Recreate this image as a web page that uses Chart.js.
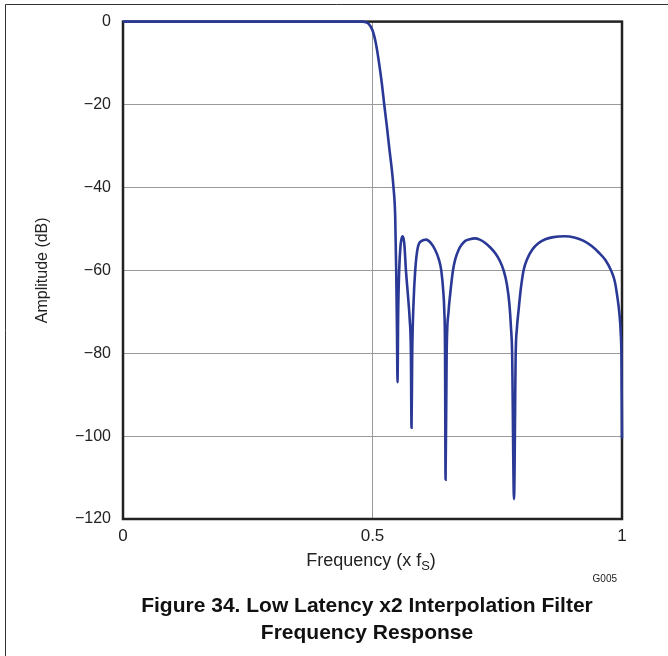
<!DOCTYPE html>
<html>
<head>
<meta charset="utf-8">
<script src="https://cdn.jsdelivr.net/npm/chart.js@4.4.1/dist/chart.umd.min.js"></script>
<style>
  html, body { margin: 0; padding: 0; background: #fff; }
  #wrap { width: 668px; height: 656px; }
</style>
</head>
<body>
<div id="wrap"><canvas id="myChart" width="668" height="656"></canvas></div>
<script>
// frequency (x fS) and amplitude (dB)
var freq = [0, 0.25, 0.46, 0.4787, 0.4854, 0.4920, 0.5000, 0.5068, 0.5134, 0.5188, 0.5235, 0.5289, 0.5341, 0.5389, 0.5421, 0.5455, 0.5475, 0.5491, 0.5501,
  0.5515, 0.5535, 0.5562, 0.5582, 0.5602, 0.5622, 0.5640, 0.5670, 0.5710, 0.5746, 0.5770, 0.5782,
  0.5796, 0.5822, 0.5856, 0.5911, 0.5987, 0.6077, 0.6167, 0.6257, 0.6328, 0.6378, 0.6418, 0.6438, 0.6454, 0.6464,
  0.6486, 0.6524, 0.6558, 0.6613, 0.6659, 0.6725, 0.6789, 0.6859, 0.6949, 0.7046, 0.7150, 0.7260, 0.7361, 0.7461,
  0.7551, 0.7627, 0.7692, 0.7742, 0.7776, 0.7798, 0.7836,
  0.7870, 0.7894, 0.7928, 0.7972, 0.8028, 0.8103, 0.8197, 0.8323, 0.8464, 0.8624, 0.8851, 0.9045, 0.9232, 0.9386,
  0.9533, 0.9667, 0.9787, 0.9858, 0.9908, 0.9948, 0.9974, 0.9990, 1.0];
var ampl = [0, 0, 0, 0, -0.1, -0.5, -2.1, -5.3, -10.2, -15, -20, -25.4, -31, -35.9, -40, -47.1, -60, -75, -87,
  -70, -60, -54, -52.4, -51.8, -52.4, -54, -60, -66, -72, -80, -98,
  -80, -68, -60, -54.3, -52.9, -52.6, -53.4, -55.1, -57.3, -60, -65, -69.6, -80, -110.5,
  -80, -70, -65.6, -60, -57.3, -55.1, -53.8, -52.9, -52.5, -52.3, -52.6, -53.4, -54.5, -55.9,
  -57.7, -60, -63.3, -68, -74, -80, -115.2,
  -80, -74, -69.6, -64.5, -60, -57.2, -55.1, -53.5, -52.5, -52.0, -51.8, -52.1, -52.9, -54.1,
  -55.7, -57.5, -60.2, -62.8, -66.5, -70.5, -75, -82, -100.5];
var xTickLabels = {0: "0", 0.5: "0.5", 1: "1"};
var yTitle = "Amplitude (dB)";
var xTitle = ["Frequency (x f", "S", ")"];
var caption = ["Figure 34. Low Latency x2 Interpolation Filter", "Frequency Response"];
var figId = "G005";

var points = freq.map((f, i) => ({x: f, y: ampl[i]}));
var FONT = '"Liberation Sans", Arial, sans-serif';

var extras = {
  id: "extras",
  beforeDraw(chart) {
    var c = chart.ctx;
    c.save();
    c.strokeStyle = "#333";
    c.lineWidth = 1;
    c.beginPath();
    c.moveTo(5.5, 656);
    c.lineTo(5.5, 4.5);
    c.lineTo(668, 4.5);
    c.stroke();
    c.restore();
  },
  beforeDatasetsDraw(chart) {
    var a = chart.chartArea, c = chart.ctx;
    c.save();
    c.strokeStyle = "#222";
    c.lineWidth = 2.5;
    c.strokeRect(a.left, a.top, a.right - a.left, a.bottom - a.top);
    c.restore();
  },
  afterDraw(chart) {
    var c = chart.ctx;
    c.save();
    c.fillStyle = "#222";
    c.textBaseline = "alphabetic";
    // x axis title with subscript S
    c.font = "18px " + FONT;
    var w0 = c.measureText(xTitle[0]).width;
    var w2 = c.measureText(xTitle[2]).width;
    c.font = "13px " + FONT;
    var w1 = c.measureText(xTitle[1]).width;
    var x = 371 - (w0 + w1 + w2) / 2;
    c.font = "18px " + FONT;
    c.fillText(xTitle[0], x, 566);
    c.font = "13px " + FONT;
    c.fillText(xTitle[1], x + w0, 570);
    c.font = "18px " + FONT;
    c.fillText(xTitle[2], x + w0 + w1, 566);
    // figure id
    c.font = "10px " + FONT;
    c.textAlign = "right";
    c.fillText(figId, 617, 582);
    // caption
    c.fillStyle = "#111";
    c.font = "bold 21px " + FONT;
    c.textAlign = "center";
    c.fillText(caption[0], 367, 612);
    c.fillText(caption[1], 367, 639);
    c.restore();
  }
};

const myChart = new Chart("myChart", {
  type: "line",
  data: {
    datasets: [{
      data: points,
      borderColor: "#2b3996",
      backgroundColor: "#2b3996",
      borderWidth: 2.6,
      pointRadius: 0,
      fill: false,
      cubicInterpolationMode: "monotone",
      clip: false
    }]
  },
  options: {
    animation: false,
    responsive: false,
    layout: {padding: {top: 19, right: 46, bottom: 107, left: 0}},
    plugins: {legend: {display: false}, tooltip: {enabled: false}},
    scales: {
      x: {
        type: "linear",
        min: 0, max: 1,
        afterFit: s => { s.height = 30; },
        border: {display: false},
        grid: {
          drawTicks: false,
          color: ctx => (ctx.tick && ctx.tick.value === 0.5) ? "#999" : "rgba(0,0,0,0)"
        },
        ticks: {
          stepSize: 0.5,
          padding: 7,
          color: "#222",
          font: {family: FONT, size: 17},
          callback: v => xTickLabels[v] !== undefined ? xTickLabels[v] : ""
        }
      },
      y: {
        min: -120, max: 0,
        afterFit: s => { s.width = 123; },
        border: {display: false},
        grid: {drawTicks: false, color: "#999"},
        title: {
          display: true,
          text: yTitle,
          color: "#222",
          font: {family: FONT, size: 16},
          padding: {top: 33, bottom: 0}
        },
        ticks: {
          stepSize: 20,
          padding: 12,
          color: "#222",
          font: {family: FONT, size: 16},
          callback: v => v < 0 ? "\u2212" + Math.abs(v) : String(v)
        }
      }
    }
  },
  plugins: [extras]
});
</script>
</body>
</html>
